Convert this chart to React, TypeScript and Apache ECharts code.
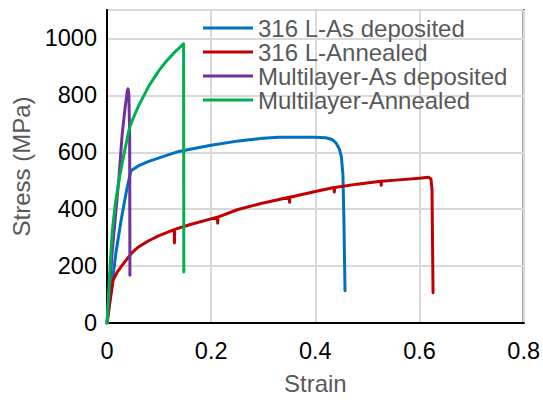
import React, { useEffect, useRef } from "react";
import * as echarts from "echarts";

const seriesNames = [
  "316 L-As deposited",
  "316 L-Annealed",
  "Multilayer-As deposited",
  "Multilayer-Annealed",
];
const seriesColors = ["#0070c0", "#c00000", "#7030a0", "#00b050"];

const xTicks = [0, 0.2, 0.4, 0.6, 0.8];
const yTicks = [0, 200, 400, 600, 800, 1000];

// [strain, stress (MPa)]
const as316Data = [
  [0, 0], [0.01, 140], [0.017, 245], [0.027, 360], [0.038, 470], [0.046, 535],
  [0.06, 552], [0.08, 568], [0.113, 588], [0.138, 603], [0.177, 617], [0.2, 625],
  [0.253, 640], [0.3, 649], [0.33, 653], [0.4, 653], [0.42, 651], [0.432, 645],
  [0.44, 632], [0.446, 612], [0.45, 585], [0.453, 520], [0.455, 350], [0.457, 113],
];

const annealed316Data = [
  [0, 0], [0.006, 80], [0.012, 152], [0.02, 180], [0.03, 205], [0.048, 247],
  [0.061, 268], [0.08, 289], [0.1, 307], [0.129, 328], [0.1295, 281], [0.13, 329],
  [0.16, 346], [0.212, 372], [0.2125, 351], [0.213, 372], [0.25, 398], [0.3, 422],
  [0.35, 442], [0.3505, 424], [0.351, 442], [0.4, 462], [0.436, 476], [0.4365, 460],
  [0.437, 476], [0.48, 488], [0.526, 498], [0.5265, 484], [0.527, 498], [0.56, 503],
  [0.6, 509], [0.617, 512], [0.622, 506], [0.624, 470], [0.626, 106],
];

const multiAsData = [
  [0, 0], [0.01, 250], [0.023, 512], [0.029, 660], [0.035, 760], [0.039, 815],
  [0.0405, 823], [0.042, 805], [0.0435, 650], [0.044, 168],
];

const multiAnnealedData = [
  [0, 0], [0.005, 170], [0.01, 320], [0.016, 420], [0.023, 502], [0.029, 561],
  [0.042, 677], [0.048, 710], [0.061, 765], [0.081, 835], [0.1, 888], [0.113, 918],
  [0.13, 952], [0.14, 969], [0.147, 981], [0.1475, 179],
];

const allData = [as316Data, annealed316Data, multiAsData, multiAnnealedData];

export default function App() {
  const ref = useRef<HTMLDivElement>(null);
  useEffect(() => {
    if (!ref.current) return;
    const chart = echarts.init(ref.current, undefined, { renderer: "svg" });
    const font = "Liberation Sans, Arial, sans-serif";
    chart.setOption({
      animation: false,
      backgroundColor: "#ffffff",
      textStyle: { fontFamily: font },
      grid: {
        left: 107,
        right: 18,
        top: 10,
        bottom: 79,
        show: true,
        borderColor: "#000000",
        borderWidth: 2,
        containLabel: false,
      },
      legend: {
        data: seriesNames.map((n, i) => ({
          name: n,
          icon: "rect",
          itemStyle: { color: seriesColors[i] },
        })),
        orient: "vertical",
        left: 203,
        top: 16,
        itemWidth: 50,
        itemHeight: 3,
        itemGap: 0,
        padding: 0,
        textStyle: {
          fontFamily: font,
          fontSize: 24,
          color: "#595959",
          lineHeight: 24,
        },
      },
      xAxis: {
        type: "value",
        min: 0,
        max: 0.8,
        interval: 0.2,
        name: "Strain",
        nameLocation: "middle",
        nameGap: 48,
        nameTextStyle: { fontFamily: font, fontSize: 24, color: "#595959" },
        axisLine: { show: true, lineStyle: { color: "#000000", width: 2 } },
        axisTick: { show: false },
        axisLabel: {
          margin: 16,
          fontFamily: font,
          fontSize: 23.5,
          color: "#000000",
          formatter: (v: number) => {
            const t = xTicks.find((x) => Math.abs(x - v) < 1e-9);
            return t === undefined ? "" : String(t);
          },
        },
        splitLine: { show: true, lineStyle: { color: "#d9d9d9", width: 2 } },
      },
      yAxis: {
        type: "value",
        min: 0,
        max: 1100,
        interval: 200,
        name: "Stress (MPa)",
        nameLocation: "middle",
        nameGap: 72,
        nameTextStyle: { fontFamily: font, fontSize: 24, color: "#595959" },
        axisLine: { show: true, lineStyle: { color: "#000000", width: 2 } },
        axisTick: { show: false },
        axisLabel: {
          margin: 10,
          fontFamily: font,
          fontSize: 23.5,
          color: "#000000",
          formatter: (v: number) => (yTicks.includes(v) ? String(v) : ""),
        },
        splitLine: { show: true, lineStyle: { color: "#d9d9d9", width: 2 } },
      },
      series: allData.map((d, i) => ({
        name: seriesNames[i],
        type: "line",
        data: d,
        symbol: "none",
        smooth: false,
        lineStyle: { color: seriesColors[i], width: 3, join: "round", cap: "round" },
        itemStyle: { color: seriesColors[i] },
        z: 2 + i,
      })),
    });
    return () => chart.dispose();
  }, []);
  return (
    <div
      ref={ref}
      style={{ position: "absolute", left: 0, top: 0, width: 543, height: 402 }}
    />
  );
}
